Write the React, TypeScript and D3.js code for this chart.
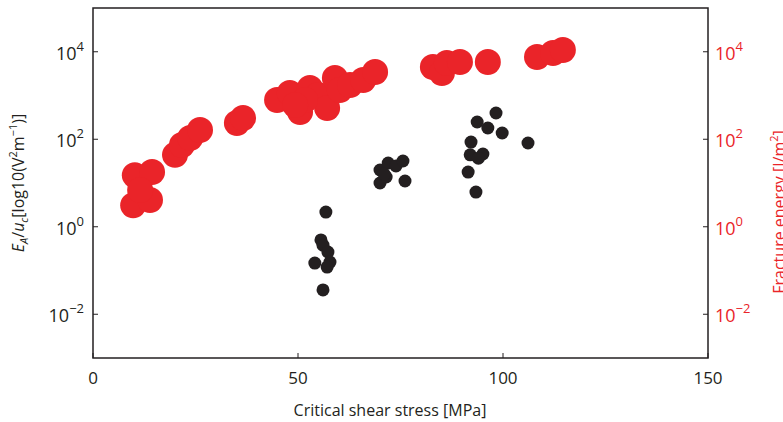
import React from "react";
import * as d3 from "d3";

// critical shear stress [MPa] vs E_A/u_c (black, left axis)
const blackX = [56.8, 55.6, 56.1, 57.3, 57.8, 54.1, 57.1, 56.1,
  70.0, 72.0, 73.9, 75.6, 70.0, 71.5, 76.1, 71.0,
  98.3, 93.7, 96.3, 99.8, 106.1, 92.2, 92.0, 95.1, 94.0, 91.5, 93.4];
const blackY = [2.17, 0.5, 0.38, 0.265, 0.156, 0.148, 0.12, 0.036,
  19.8, 28.6, 24.5, 31.8, 10, 13.7, 11.1, 16,
  398, 248, 181, 139, 82, 86, 44, 46, 37, 17.8, 6.2];

// critical shear stress [MPa] vs fracture energy [J/m^2] (red, right axis)
const redX = [9.8, 13.9, 10.2, 14.4, 11.5, 20, 21.7, 23.7, 26.1,
  35.1, 36.6,
  44.9, 48.0, 50.5, 52.9, 54.9, 57.1, 59.0, 60.2, 62.7, 65.9, 68.8, 51.7, 49.3,
  82.9, 85.1, 86.3, 89.5, 96.3, 108.3, 112.2, 114.6];
const redY = [3.1, 4.1, 15, 17.8, 6.9, 44, 74, 107, 163,
  235, 306,
  789, 1140, 420, 1484, 1026, 518, 2512, 1337, 1738, 2260, 3444, 789, 607,
  4480, 3270, 5530, 5830, 5830, 7590, 9350, 10970];

const xTicks = [0, 50, 100, 150];
const yTickExp = [-2, 0, 2, 4];

const W = 783;
const H = 422;
const margin = { top: 8, right: 75, bottom: 64, left: 93 };
const font = "'Open Sans', 'DejaVu Sans', sans-serif";
const ink = "#231f20";
const red = "#ea2429";

export default function App() {
  const x = d3.scaleLinear().domain([0, 150]).range([margin.left, W - margin.right]);
  const y = d3.scaleLog().domain([1e-3, 1e5]).range([H - margin.bottom, margin.top]);
  const top = margin.top;
  const bottom = H - margin.bottom;
  const left = margin.left;
  const right = W - margin.right;

  const sup = (e: number) => (e < 0 ? "\u2212" + Math.abs(e) : String(e));

  return (
    <div style={{ position: "absolute", left: 0, top: 0 }}>
      <svg width={W} height={H} style={{ display: "block", fontFamily: font }}>
        <rect width={W} height={H} fill="white" />
        {redX.map((d, i) => (
          <circle key={"r" + i} cx={x(d)} cy={y(redY[i])} r={13} fill={red} />
        ))}
        {blackX.map((d, i) => (
          <circle key={"b" + i} cx={x(d)} cy={y(blackY[i])} r={6.5} fill={ink} />
        ))}

        <rect x={left} y={top} width={right - left} height={bottom - top}
          fill="none" stroke={ink} strokeWidth={1.5} />

        {xTicks.map((t) => (
          <g key={"x" + t}>
            <line x1={x(t)} x2={x(t)} y1={bottom} y2={bottom - 5} stroke={ink} strokeWidth={1} />
            <text x={x(t)} y={bottom + 26} textAnchor="middle" fontSize={17} fill={ink}>{t}</text>
          </g>
        ))}

        {yTickExp.map((e) => (
          <g key={"y" + e}>
            <line x1={left} x2={left + 5} y1={y(10 ** e)} y2={y(10 ** e)} stroke={ink} strokeWidth={1} />
            <line x1={right} x2={right - 5} y1={y(10 ** e)} y2={y(10 ** e)} stroke={ink} strokeWidth={1} />
            <text x={left - 9} y={y(10 ** e) + 8} textAnchor="end" fontSize={18} fill={ink}>
              10<tspan dy={-9} fontSize={13}>{sup(e)}</tspan>
            </text>
            <text x={right + 7} y={y(10 ** e) + 8} textAnchor="start" fontSize={18} fill={red}>
              10<tspan dy={-9} fontSize={13}>{sup(e)}</tspan>
            </text>
          </g>
        ))}

        <text x={390} y={416} textAnchor="middle" fontSize={16} fill={ink}>
          Critical shear stress [MPa]
        </text>

        <text transform={`translate(24, ${(top + bottom) / 2}) rotate(-90)`} textAnchor="middle"
          fontSize={16} fill={ink}>
          <tspan fontStyle="italic">E</tspan>
          <tspan fontStyle="italic" fontSize={11} dy={4}>A</tspan>
          <tspan dy={-4}>/</tspan>
          <tspan fontStyle="italic">u</tspan>
          <tspan fontStyle="italic" fontSize={11} dy={4}>c</tspan>
          <tspan dy={-4}>[log10(V</tspan>
          <tspan fontSize={11} dy={-7}>2</tspan>
          <tspan dy={7}>m</tspan>
          <tspan fontSize={11} dy={-7}>{"\u22121"}</tspan>
          <tspan dy={7}>)]</tspan>
        </text>

        <text transform={`translate(785, 212) rotate(-90)`} textAnchor="middle" fontSize={16} fill={red}>
          Fracture energy [J/m<tspan fontSize={11} dy={-7}>2</tspan><tspan dy={7}>]</tspan>
        </text>
      </svg>
    </div>
  );
}
